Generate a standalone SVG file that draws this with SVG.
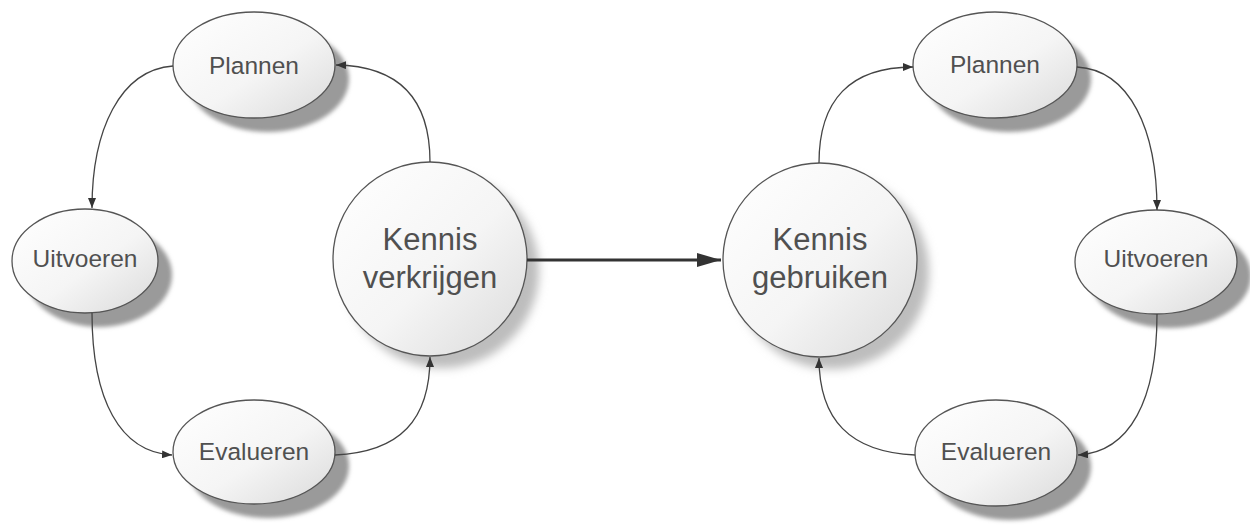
<svg xmlns="http://www.w3.org/2000/svg" width="1250" height="527" viewBox="0 0 1250 527">
<defs>
<style>
.node{fill:url(#g);stroke:#555;stroke-width:1.3}
.sh{fill:#9a9a9a;filter:url(#blur)}
.shc{fill:#bdbdbd;filter:url(#blur2)}
.t{font-family:"Liberation Sans",Arial,sans-serif;font-size:24.5px;fill:#505050;text-anchor:middle}
.tc{font-family:"Liberation Sans",Arial,sans-serif;font-size:31px;fill:#505050;text-anchor:middle}
.c{fill:none;stroke:#444;stroke-width:1.3;marker-end:url(#a)}
</style>
<linearGradient id="g" x1="0" y1="0" x2="1" y2="1">
<stop offset="0" stop-color="#ffffff"/>
<stop offset="0.55" stop-color="#f5f5f5"/>
<stop offset="1" stop-color="#dadada"/>
</linearGradient>
<filter id="blur" x="-20%" y="-20%" width="140%" height="140%"><feGaussianBlur stdDeviation="2"/></filter>
<filter id="blur2" x="-20%" y="-20%" width="140%" height="140%"><feGaussianBlur stdDeviation="5"/></filter>
<marker id="a" markerUnits="userSpaceOnUse" markerWidth="10" markerHeight="8" refX="10" refY="4" orient="auto"><path d="M0,0 L10,4 L0,8 z" fill="#333"/></marker>
<marker id="ab" markerUnits="userSpaceOnUse" markerWidth="24" markerHeight="14" refX="24" refY="7" orient="auto"><path d="M0,0 L24,7 L0,14 z" fill="#333"/></marker>
</defs>
<rect width="1250" height="527" fill="#fff"/>
<g id="plannen-l">
<ellipse class="sh" cx="268" cy="79" rx="81" ry="53"/>
<ellipse class="node" cx="254" cy="65" rx="81" ry="53"/>
<text class="t" x="254" y="74">Plannen</text>
</g>
<g id="uitvoeren-l">
<ellipse class="sh" cx="99" cy="275" rx="73" ry="52"/>
<ellipse class="node" cx="85" cy="261" rx="73" ry="52"/>
<text class="t" x="85" y="267">Uitvoeren</text>
</g>
<g id="evalueren-l">
<ellipse class="sh" cx="268" cy="466" rx="81" ry="52"/>
<ellipse class="node" cx="254" cy="452" rx="81" ry="52"/>
<text class="t" x="254" y="460">Evalueren</text>
</g>
<g id="kennis-verkrijgen">
<circle class="shc" cx="442" cy="271" r="97"/>
<circle class="node" cx="430" cy="259" r="97"/>
<text class="tc" x="430" y="250">Kennis</text>
<text class="tc" x="430" y="288">verkrijgen</text>
</g>
<g id="kennis-gebruiken">
<circle class="shc" cx="832" cy="272" r="97"/>
<circle class="node" cx="820" cy="260" r="97"/>
<text class="tc" x="820" y="250">Kennis</text>
<text class="tc" x="820" y="288">gebruiken</text>
</g>
<g id="plannen-r">
<ellipse class="sh" cx="1009" cy="79" rx="82" ry="53"/>
<ellipse class="node" cx="995" cy="65" rx="82" ry="53"/>
<text class="t" x="995" y="73">Plannen</text>
</g>
<g id="uitvoeren-r">
<ellipse class="sh" cx="1170" cy="276" rx="81" ry="52"/>
<ellipse class="node" cx="1156" cy="262" rx="81" ry="52"/>
<text class="t" x="1156" y="267">Uitvoeren</text>
</g>
<g id="evalueren-r">
<ellipse class="sh" cx="1010" cy="467" rx="81" ry="53"/>
<ellipse class="node" cx="996" cy="453" rx="81" ry="53"/>
<text class="t" x="996" y="460">Evalueren</text>
</g>
<g id="connectors">
<path class="c" d="M430,162 C430,100 400,66 336,65"/>
<path class="c" d="M173,66 C120,70 92,130 92,208"/>
<path class="c" d="M92,313 C92,400 120,452 172,455"/>
<path class="c" d="M335,455 C400,452 430,420 430,357"/>
<path class="c" d="M819,163 C819,100 850,67 913,67"/>
<path class="c" d="M1077,67 C1130,70 1157,130 1157,210"/>
<path class="c" d="M1157,314 C1157,400 1130,452 1078,455"/>
<path class="c" d="M915,455 C850,452 819,420 819,358"/>
<path d="M527,260 L721,260" fill="none" stroke="#333" stroke-width="3" marker-end="url(#ab)"/>
</g>
</svg>
